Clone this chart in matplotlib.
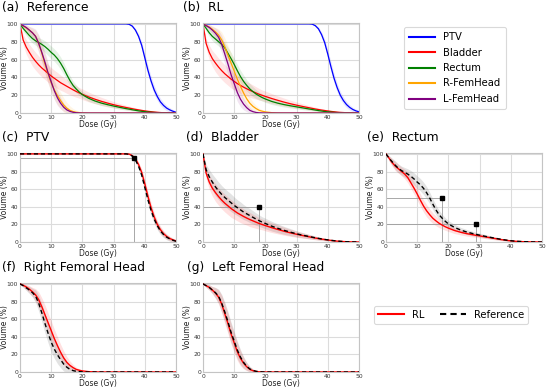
import matplotlib
matplotlib.use("Agg")
import matplotlib.pyplot as plt
import numpy as np
from matplotlib.lines import Line2D

# ---------------- data ----------------
dose = [0, 1, 2, 3, 4, 5, 6, 7, 8, 9, 10, 11, 12, 13, 14, 15, 16, 17, 18, 19, 20,
        22, 24, 26, 28, 30, 32, 34,
        35, 36, 37, 38, 39, 40, 41, 42, 43, 44, 45, 46, 47, 48, 49, 50]

ptv_ref = [100] * 28 + [99.5, 97.5, 93, 86, 76, 62, 48, 36, 26, 18.5, 12.5, 8.5, 5.5, 3.5, 2, 0.8]
ptv_rl = [100] * 28 + [99.7, 98, 94.5, 88, 79, 66, 52, 39, 28.5, 20, 14, 9.5, 6.3, 4, 2.4, 1.3]
ptv_sd = [0] * 28 + [0.3, 1, 2, 3, 4, 5, 5.5, 5.5, 5, 4.5, 4, 3.5, 3, 2.5, 2, 1.5]

bladder_ref = [100, 82, 74, 68, 62.5, 58, 54, 50.5, 47.5, 44.5, 41.5, 39, 36.5, 34, 32, 30, 28, 26, 24.2, 22.5, 21,
               18, 15.5, 13.2, 11.2, 9.3, 7.7, 6.2,
               5.5, 4.8, 4.1, 3.5, 2.9, 2.4, 1.9, 1.5, 1.1, 0.8, 0.5, 0.3, 0.2, 0.1, 0.05, 0]
bladder_rl = [100, 78, 68, 61, 56, 51.5, 47.5, 44, 41, 38, 35.5, 33, 31, 29, 27.2, 25.5, 24, 22.5, 21, 19.8, 18.6,
              16.3, 14.2, 12.2, 10.4, 8.8, 7.3, 5.9,
              5.2, 4.5, 3.9, 3.3, 2.8, 2.3, 1.8, 1.4, 1.0, 0.7, 0.5, 0.3, 0.2, 0.1, 0.05, 0]
bladder_sd = [0, 6, 8, 9, 10, 10, 10, 10, 10, 10, 9.5, 9, 9, 8.5, 8, 8, 7.5, 7, 6.5, 6, 6,
              5.5, 5, 4.5, 4, 3.5, 3, 2.5,
              2.3, 2, 1.8, 1.5, 1.3, 1.1, 0.9, 0.7, 0.5, 0.4, 0.3, 0.2, 0.1, 0.1, 0, 0]

rectum_ref = [100, 95, 91, 87, 83.5, 81, 79, 77, 74.5, 71.5, 68, 65, 61, 56, 50, 43, 36.5, 31, 27, 23.5, 20.5,
              16.5, 13.5, 11.2, 9.4, 7.8, 6.3, 4.9,
              4.3, 3.6, 3.0, 2.4, 1.9, 1.5, 1.1, 0.8, 0.6, 0.4, 0.3, 0.2, 0.1, 0.05, 0, 0]
rectum_rl = [100, 95, 90, 86, 83, 80, 77, 73, 67, 61, 54.5, 47.5, 41, 35.5, 31, 27, 24, 21.3, 19.2, 17.3, 15.7,
             13, 11, 9.4, 8.1, 6.9, 5.7, 4.5,
             3.9, 3.3, 2.7, 2.2, 1.7, 1.3, 1.0, 0.7, 0.5, 0.35, 0.25, 0.15, 0.1, 0.05, 0, 0]
rectum_sd = [0, 3, 4, 5, 5, 5, 5.5, 6, 6.5, 7, 7, 7, 7, 7, 6.5, 6, 5.5, 5, 4.5, 4, 3.8,
             3.5, 3, 2.8, 2.5, 2.2, 2, 1.7,
             1.5, 1.3, 1.1, 0.9, 0.8, 0.6, 0.5, 0.4, 0.3, 0.2, 0.15, 0.1, 0.05, 0, 0, 0]

rfem_ref = [100, 98, 95.5, 93, 90, 86, 78, 67, 55, 44, 34, 26, 19.5, 14, 9, 5.5, 3, 1.6, 0.8, 0.4, 0.2,
            0, 0, 0, 0, 0, 0, 0] + [0] * 16
rfem_rl = [100, 98.5, 96.5, 94, 91, 87.5, 82, 74, 65, 56, 47, 38, 30, 22.5, 16, 11, 7.5, 5, 3, 2, 1.2,
           0.4, 0.1, 0, 0, 0, 0, 0] + [0] * 16
rfem_sd = [0, 2, 3, 4, 5, 7, 9, 10, 11, 11, 11, 10.5, 10, 9, 8, 6.5, 5, 3.5, 2.5, 1.5, 1,
           0.5, 0.2, 0, 0, 0, 0, 0] + [0] * 16

lfem_ref = [100, 98, 96, 93, 90, 86, 78, 68, 57, 45, 35, 25, 17, 11, 6.5, 3.5, 1.8, 0.8, 0.3, 0.1, 0,
            0, 0, 0, 0, 0, 0, 0] + [0] * 16
lfem_rl = [100, 98, 96, 93, 89.5, 85, 77, 66, 55, 43, 33, 23, 15.5, 10, 6, 3, 1.5, 0.6, 0.2, 0.1, 0,
           0, 0, 0, 0, 0, 0, 0] + [0] * 16
lfem_sd = [0, 2, 3, 4, 6, 8, 10, 11, 11.5, 11.5, 11, 10, 8.5, 6.5, 4.5, 3, 1.8, 1, 0.5, 0.2, 0,
           0, 0, 0, 0, 0, 0, 0] + [0] * 16

structures = ["PTV", "Bladder", "Rectum", "R-FemHead", "L-FemHead"]
colors = ["blue", "red", "green", "orange", "purple"]
ref_curves = [ptv_ref, bladder_ref, rectum_ref, rfem_ref, lfem_ref]
rl_curves = [ptv_rl, bladder_rl, rectum_rl, rfem_rl, lfem_rl]
sds = [ptv_sd, bladder_sd, rectum_sd, rfem_sd, lfem_sd]

# clinical constraint points (dose, volume)
ptv_pts = [(36.5, 95)]
bladder_pts = [(18, 40)]
rectum_pts = [(18, 50), (29, 20)]

panel_titles = ["(a)  Reference", "(b)  RL", "(c)  PTV", "(d)  Bladder", "(e)  Rectum",
                "(f)  Right Femoral Head", "(g)  Left Femoral Head"]

# ---------------- figure ----------------
W, H = 546, 387
fig = plt.figure(figsize=(W / 100, H / 100), dpi=100)


def rect(l, t, r, b):
    return [l / W, 1 - b / H, (r - l) / W, (b - t) / H]


def style(ax):
    ax.set_xlim(0, 50)
    ax.set_ylim(0, 101)
    ax.set_xticks([0, 10, 20, 30, 40, 50])
    ax.set_yticks([0, 20, 40, 60, 80, 100])
    ax.grid(True, color="#dcdcdc", lw=0.8)
    ax.set_axisbelow(True)
    for s in ax.spines.values():
        s.set_color("#c4c4c4")
        s.set_linewidth(0.8)
    ax.tick_params(length=0, pad=1.5, labelsize=4.3, labelcolor="#333333")
    ax.set_xlabel("Dose (Gy)", fontsize=5.5, color="#222222")
    ax.set_ylabel("Volume (%)", fontsize=5.5, color="#222222")
    ax.xaxis.set_label_coords(0.5, -0.075)
    ax.yaxis.set_label_coords(-0.068, 0.5)


d = np.array(dose)


def band(ax, y, sd, color, alpha):
    y = np.array(y, float)
    s = np.array(sd, float)
    ax.fill_between(d, np.clip(y - s, 0, 100), np.clip(y + s, 0, 100), color=color,
                    alpha=alpha, lw=0)


positions = {
    "a": (20, 23, 176, 113), "b": (203, 23, 359, 113),
    "c": (20, 153, 176, 242), "d": (203, 153, 359, 242), "e": (386, 153, 542, 242),
    "f": (20, 283, 176, 372), "g": (203, 283, 359, 372),
}
title_pos = {"a": (2, 11), "b": (183, 11), "c": (2, 141), "d": (186, 141), "e": (367, 141),
             "f": (2, 271), "g": (187, 271)}

axes = {}
for k, t in zip("abcdefg", panel_titles):
    ax = fig.add_axes(rect(*positions[k]))
    style(ax)
    axes[k] = ax
    x, y = title_pos[k]
    fig.text(x / W, 1 - y / H, t, fontsize=8.8, ha="left", va="baseline")

# (a) and (b)
for ax, curves in ((axes["a"], ref_curves), (axes["b"], rl_curves)):
    for c, y, sd, name in zip(colors, curves, sds, structures):
        band(ax, y, sd, c, 0.1)
        ax.plot(d, y, color=c, lw=0.9, label=name)

# (c)-(g)
detail = [("c", 0, ptv_pts), ("d", 1, bladder_pts), ("e", 2, rectum_pts), ("f", 3, []), ("g", 4, [])]
for k, i, pts in detail:
    ax = axes[k]
    band(ax, ref_curves[i], sds[i], "gray", 0.22)
    band(ax, rl_curves[i], sds[i], "red", 0.12)
    for (px, py) in pts:
        ax.plot([0, px], [py, py], color="#9a9a9a", lw=0.6, zorder=1.5)
        ax.plot([px, px], [0, py], color="#9a9a9a", lw=0.6, zorder=1.5)
        ax.plot([px], [py], marker="s", ms=2.5, color="black", zorder=5)
    ax.plot(d, rl_curves[i], color="red", lw=1.0, zorder=3)
    ax.plot(d, ref_curves[i], color="black", lw=1.0, ls=(0, (3, 2)), zorder=4)

# legends
h1 = [Line2D([], [], color=c, lw=1.5) for c in colors]
leg1 = fig.legend(h1, structures, loc="center", bbox_to_anchor=(455 / W, 1 - 68 / H),
                  fontsize=7.2, handlelength=2.6, labelspacing=0.55, frameon=True,
                  edgecolor="#d0d0d0", borderpad=0.5)
leg1.get_frame().set_linewidth(0.8)

h2 = [Line2D([], [], color="red", lw=1.5), Line2D([], [], color="black", lw=1.5, ls=(0, (3, 2)))]
leg2 = fig.legend(h2, ["RL", "Reference"], loc="center", bbox_to_anchor=(451 / W, 1 - 314.5 / H),
                  ncol=2, fontsize=7.2, handlelength=2.6, columnspacing=1.6, frameon=True,
                  edgecolor="#d0d0d0", borderpad=0.4)
leg2.get_frame().set_linewidth(0.8)

fig.savefig("out.png", dpi=100)
